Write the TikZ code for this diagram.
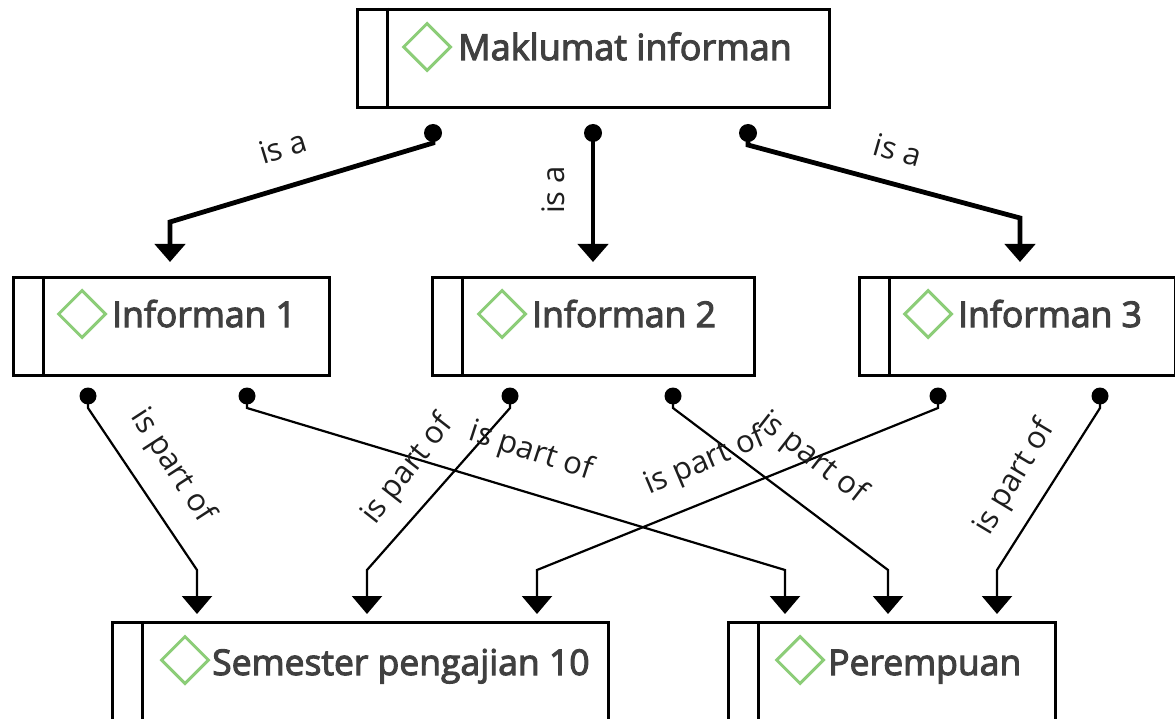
\documentclass[tikz,border=0pt]{standalone}
\usepackage{fontspec}
\setmainfont{Open Sans}
\newfontfamily\semifont[FakeBold=3]{Open Sans}
\usetikzlibrary{arrows.meta,calc,shapes.geometric}
\definecolor{txtgray}{HTML}{404040}
\definecolor{diagreen}{HTML}{8CCD78}
\definecolor{labgray}{HTML}{1E1E1E}
\begin{document}
\begin{tikzpicture}[x=1pt,y=-1pt,
  box/.style={draw=black,line width=3pt,minimum width=#1,minimum height=98pt,inner sep=0pt,anchor=north west},
  lowbox/.style={draw=black,line width=3pt,minimum width=#1,minimum height=110pt,inner sep=0pt,anchor=north west},
  stripe/.style={draw=black,line width=3pt},
  diamark/.style={diamond,draw=diagreen,line width=3pt,minimum width=48pt,minimum height=48pt,inner sep=0pt},
  nodetext/.style={inner sep=0pt,anchor=base west,text=txtgray,font=\semifont\fontsize{35.5}{40}\selectfont},
  toptext/.style={inner sep=0pt,anchor=base west,text=txtgray,font=\semifont\fontsize{36}{40}\selectfont},
  edgelab/.style={inner sep=0pt,text=labgray,font=\fontsize{31}{36}\selectfont},
  isa/.style={draw=black,line width=4.8pt,-{Triangle[width=30pt,length=18pt]}},
  partof/.style={draw=black,line width=2.2pt,-{Triangle[width=30pt,length=18pt]}},
  bigdot/.style={fill=black},
]
\useasboundingbox (0,0) rectangle (1175,719);
\fill[white] (0,0) rectangle (1175,719);

% boxes
\node[box=472] (m) at (356,8) {};
\node[box=316] (i1) at (12,276) {};
\node[box=322] (i2) at (431,276) {};
\node[box=316] (i3) at (858,276) {};
\node[lowbox=496] (s) at (111,621) {};
\node[lowbox=327] (p) at (727,621) {};

% stripes, diamonds and texts
\foreach \b in {m,i1,i2,i3,s,p}{
  \draw[stripe] ($(\b.north west)+(31,0)$) -- ($(\b.south west)+(31,0)$);
}
\node[diamark] (md) at ($(m.north west)+(71,39)$) {};
\node[diamark] (i1d) at ($(i1.north west)+(70,38)$) {};
\node[diamark] (i2d) at ($(i2.north west)+(71,38)$) {};
\node[diamark] (i3d) at ($(i3.north west)+(70,38)$) {};
\node[diamark] (sd) at ($(s.north west)+(74,39)$) {};
\node[diamark] (pd) at ($(p.north west)+(73,39)$) {};

\node[toptext] (mt) at ($(m.north west)+(102,52)$) {Maklumat informan};
\node[nodetext] (i1t) at ($(i1.north west)+(100,51)$) {Informan 1};
\node[nodetext] (i2t) at ($(i2.north west)+(101,51)$) {Informan 2};
\node[nodetext] (i3t) at ($(i3.north west)+(100,51)$) {Informan 3};
\node[nodetext] (st) at ($(s.north west)+(101,54)$) {Semester pengajian 10};
\node[nodetext] (pt) at ($(p.north west)+(101,54)$) {Perempuan};

% connector start points (dots)
\coordinate (ma) at ($(m.south west)+(77,24)$);
\coordinate (mb) at ($(m.south west)+(237,24)$);
\coordinate (mc) at ($(m.south west)+(392,24)$);
\coordinate (a1) at ($(i1.south west)+(76,19)$);
\coordinate (b1) at ($(i1.south west)+(235,19)$);
\coordinate (a2) at ($(i2.south west)+(79,19)$);
\coordinate (b2) at ($(i2.south west)+(242,19)$);
\coordinate (a3) at ($(i3.south west)+(80,19)$);
\coordinate (b3) at ($(i3.south west)+(242,19)$);

% "is a" connectors
\draw[isa] (ma) -- ++(0,10) -- ($(i1.north west)+(158,-54)$) -- ($(i1.north west)+(158,-14)$);
\draw[isa] (mb) -- ($(i2.north west)+(162,-14)$);
\draw[isa] (mc) -- ++(0,12) -- ($(i3.north west)+(162,-58)$) -- ($(i3.north west)+(162,-14)$);
\foreach \d in {ma,mb,mc}{\fill[bigdot] (\d) circle (9);}

% "is part of" connectors
\draw[partof] (a1) -- ++(0,12) -- ($(s.north west)+(86,-51)$) -- ($(s.north west)+(86,-7)$);
\draw[partof] (b1) -- ++(0,12) -- ($(p.north west)+(58,-51)$) -- ($(p.north west)+(58,-7)$);
\draw[partof] (a2) -- ++(0,12) -- ($(s.north west)+(256,-51)$) -- ($(s.north west)+(256,-7)$);
\draw[partof] (b2) -- ++(0,12) -- ($(p.north west)+(161,-51)$) -- ($(p.north west)+(161,-7)$);
\draw[partof] (a3) -- ++(0,12) -- ($(s.north west)+(426,-51)$) -- ($(s.north west)+(426,-7)$);
\draw[partof] (b3) -- ++(0,12) -- ($(p.north west)+(270,-51)$) -- ($(p.north west)+(270,-7)$);
\foreach \d in {a1,b1,a2,b2,a3,b3}{\fill[bigdot] (\d) circle (8.5);}

% labels
\node[edgelab,rotate=17] (la1) at (283,147) {is a};
\node[edgelab,rotate=90] (la2) at (553,190) {is a};
\node[edgelab,rotate=-16] (la3) at (898,150) {is a};
\node[edgelab,rotate=-57] (lb1) at (172,466) {is part of};
\node[edgelab,rotate=-18] (lb2) at (531,452) {is part of};
\node[edgelab,rotate=52] (lb3) at (408,470) {is part of};
\node[edgelab,rotate=-38] (lb4) at (812,458) {is part of};
\node[edgelab,rotate=23] (lb5) at (705,462) {is part of};
\node[edgelab,rotate=59] (lb6) at (1015,478) {is part of};
\end{tikzpicture}
\end{document}
